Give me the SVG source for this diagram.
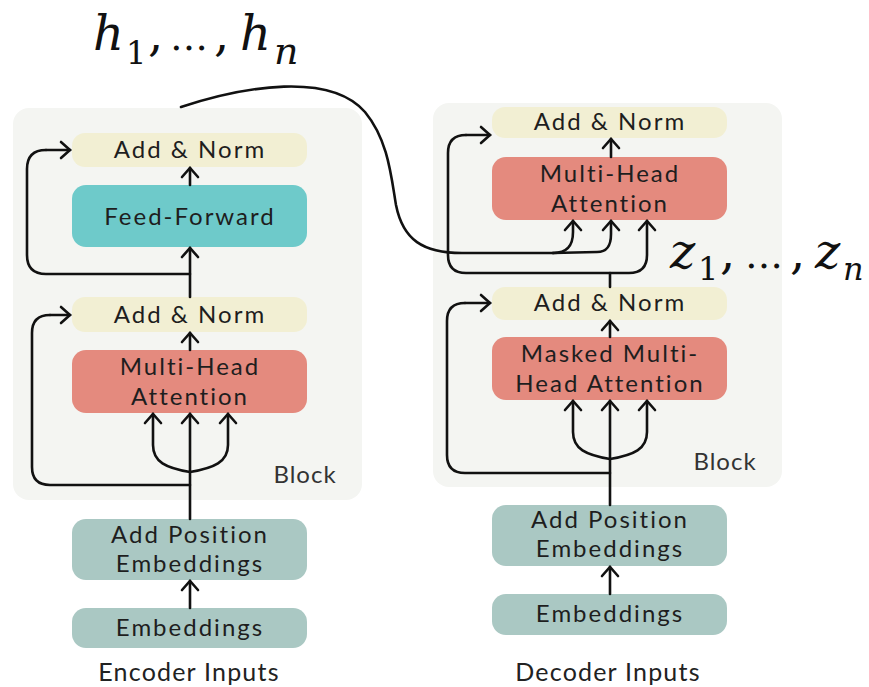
<svg xmlns="http://www.w3.org/2000/svg" width="869" height="687" viewBox="0 0 869 687">
<defs>
<marker id="ah" viewBox="-12 -12 24 24" markerWidth="24" markerHeight="24" refX="0" refY="0" orient="auto" markerUnits="userSpaceOnUse">
<path d="M-9,-8 L0,0 L-9,8" fill="none" stroke="#111" stroke-width="2.6" stroke-linejoin="miter" stroke-linecap="round"/>
</marker>
<style>
.blk{fill:#f4f5f2}
.an{fill:#f2efd3}
.ff{fill:#6ecaca}
.mha{fill:#e48a7e}
.emb{fill:#aac8c3}
.t{font-family:Lato,"Noto Sans",sans-serif;font-size:24px;fill:#1e1e1e;text-anchor:middle;letter-spacing:2px}
.bt{font-family:Lato,"Noto Sans",sans-serif;font-size:24px;fill:#333;text-anchor:middle;letter-spacing:1px}
.lb{font-family:Lato,"Noto Sans",sans-serif;font-size:25px;fill:#222;text-anchor:middle;letter-spacing:1.2px}
.c{fill:none;stroke:#111;stroke-width:2.6;stroke-linecap:round;stroke-linejoin:round}
.a{marker-end:url(#ah)}
.m{font-family:"DejaVu Serif","Liberation Serif",serif;fill:#111}
</style>
</defs>
<rect width="869" height="687" fill="#ffffff"/>

<g id="encoder_block"><rect class="blk" x="13" y="108" width="349" height="392" rx="16"/><text class="bt" x="305" y="483">Block</text></g>
<g id="decoder_block"><rect class="blk" x="433" y="103" width="349" height="384" rx="16"/><text class="bt" x="725" y="470">Block</text></g>

<g id="enc_addnorm2"><rect class="an" x="72" y="133" width="235" height="34" rx="13"/><text class="t" x="190" y="158">Add &amp; Norm</text></g>
<g id="enc_ff"><rect class="ff" x="72" y="185" width="235" height="62" rx="14"/><text class="t" x="190" y="225">Feed-Forward</text></g>
<g id="enc_addnorm1"><rect class="an" x="72" y="297" width="235" height="35" rx="13"/><text class="t" x="190" y="323">Add &amp; Norm</text></g>
<g id="enc_mha"><rect class="mha" x="72" y="350" width="235" height="63" rx="14"/><text class="t" x="190" y="375">Multi-Head</text><text class="t" x="190" y="405">Attention</text></g>
<g id="enc_ape"><rect class="emb" x="72" y="519" width="235" height="61" rx="14"/><text class="t" x="190" y="543">Add Position</text><text class="t" x="190" y="572">Embeddings</text></g>
<g id="enc_emb"><rect class="emb" x="72" y="608" width="235" height="40" rx="14"/><text class="t" x="190" y="636">Embeddings</text></g>
<g id="enc_inputs"><text class="lb" x="189" y="681">Encoder Inputs</text></g>

<g id="dec_addnorm2"><rect class="an" x="492" y="107" width="235" height="31" rx="13"/><text class="t" x="610" y="130">Add &amp; Norm</text></g>
<g id="dec_mha"><rect class="mha" x="492" y="157" width="235" height="63" rx="14"/><text class="t" x="610" y="182">Multi-Head</text><text class="t" x="610" y="212">Attention</text></g>
<g id="dec_addnorm1"><rect class="an" x="492" y="287" width="235" height="33" rx="13"/><text class="t" x="610" y="311">Add &amp; Norm</text></g>
<g id="dec_mmha"><rect class="mha" x="492" y="337" width="235" height="63" rx="14"/><text class="t" x="610" y="362">Masked Multi-</text><text class="t" x="610" y="392">Head Attention</text></g>
<g id="dec_ape"><rect class="emb" x="492" y="505" width="235" height="61" rx="14"/><text class="t" x="610" y="528">Add Position</text><text class="t" x="610" y="557">Embeddings</text></g>
<g id="dec_emb"><rect class="emb" x="492" y="594" width="235" height="41" rx="14"/><text class="t" x="610" y="622">Embeddings</text></g>
<g id="dec_inputs"><text class="lb" x="608" y="681">Decoder Inputs</text></g>

<g id="h_label"><text class="m" font-size="48"><tspan x="93" y="50" font-style="italic">h</tspan><tspan x="126" y="64" font-size="32">1</tspan><tspan x="148" y="50">,</tspan><tspan x="170" y="50" font-size="38">…</tspan><tspan x="214" y="50">,</tspan><tspan x="240" y="50" font-style="italic">h</tspan><tspan x="274" y="64" font-size="38" font-style="italic">n</tspan></text></g>
<g id="z_label"><text class="m" font-size="48"><tspan x="670" y="268" font-style="italic">z</tspan><tspan x="698" y="280" font-size="32">1</tspan><tspan x="720" y="268">,</tspan><tspan x="745" y="268" font-size="38">…</tspan><tspan x="790" y="268">,</tspan><tspan x="815" y="268" font-style="italic">z</tspan><tspan x="843" y="280" font-size="32" font-style="italic">n</tspan></text></g>

<g id="connectors">
<path class="c a" d="M190,608 L190,581"/>
<path class="c a" d="M190,519 L190,414"/>
<path class="c a" d="M190,472 C166,468 153,462 153,445 L153,414"/>
<path class="c a" d="M190,472 C214,468 228,462 228,445 L228,414"/>
<path class="c" d="M190,485 L50,485 Q32,485 32,467 L32,333 Q32,315 50,315"/>
<path class="c a" d="M50,315 L70,315"/>
<path class="c a" d="M190,350 L190,333"/>
<path class="c a" d="M190,297 L190,248"/>
<path class="c" d="M190,274 L46,274 Q27,274 27,255 L27,169 Q27,150 46,150"/>
<path class="c a" d="M46,150 L70,150"/>
<path class="c a" d="M190,185 L190,168"/>
<path class="c" d="M181,107 C245,86 330,72 365,112 C388,140 391,175 396,205 C403,240 423,253 462,253 L553,253"/>
<path class="c a" d="M553,253 C567,253 573,246 573,232 L573,221"/>
<path class="c a" d="M553,253 L597,252 C607,252 611,246 611,234 L611,221"/>
<path class="c a" d="M610,594 L610,567"/>
<path class="c a" d="M610,505 L610,401"/>
<path class="c a" d="M610,459 C586,455 573,449 573,432 L573,401"/>
<path class="c a" d="M610,459 C634,455 647,449 647,432 L647,401"/>
<path class="c" d="M610,473 L465,473 Q447,473 447,455 L447,321 Q447,303 465,303"/>
<path class="c a" d="M465,303 L490,303"/>
<path class="c a" d="M610,337 L610,321"/>
<path class="c" d="M610,287 L610,273 L466,273 Q448,273 448,255 L448,153 Q448,135 466,135"/>
<path class="c a" d="M466,135 L490,135"/>
<path class="c a" d="M610,273 L629,273 Q647,273 647,255 L647,221"/>
<path class="c a" d="M611,157 L611,139"/>
</g>
</svg>
